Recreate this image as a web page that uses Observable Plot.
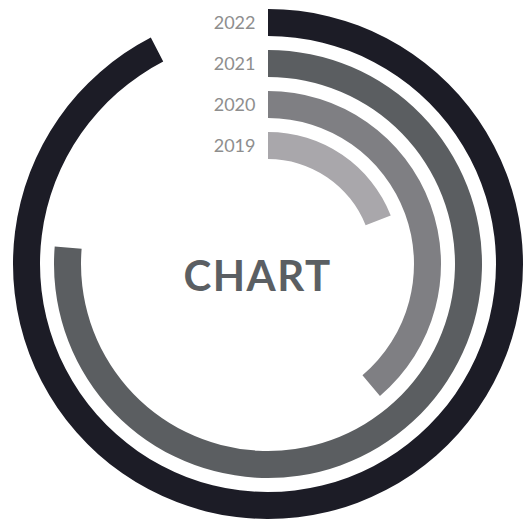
<!DOCTYPE html>
<html><head><meta charset="utf-8">
<script src="https://cdn.jsdelivr.net/npm/d3@7"></script>
<script src="https://cdn.jsdelivr.net/npm/@observablehq/plot@0.6"></script>
<style>html,body{margin:0;padding:0;background:#fff}</style>
</head><body><div id="chart"></div>
<script>
const years = ["2022", "2021", "2020", "2019"];
const values = [92.4, 76.3, 38.8, 19.0];
const colors = ["#1c1c26", "#5b5e61", "#7f7f83", "#a9a7ab"];
const fullTurn = 100;
const title = "CHART";

const data = years.map((year, i) => ({year, value: values[i]}));

function arcRender(index, scales, vals, dims) {
  const cx = (dims.marginLeft + dims.width - dims.marginRight) / 2;
  const cy = (dims.marginTop + dims.height - dims.marginBottom) / 2;
  const bw = scales.y.bandwidth();
  const g = d3.create("svg:g").attr("transform", `translate(${cx},${cy})`);
  const arc = d3.arc();
  for (const i of index) {
    const outer = cy - vals.y[i];
    g.append("path")
      .attr("fill", vals.fill[i])
      .attr("d", arc({innerRadius: outer - bw, outerRadius: outer, startAngle: vals.x1[i], endAngle: vals.x2[i]}));
  }
  return g.node();
}

const plot = Plot.plot({
  width: 523,
  height: 524,
  marginLeft: 13,
  marginRight: 0,
  marginTop: 4,
  marginBottom: 0,
  style: {fontFamily: "Lato", background: "white"},
  x: {domain: [0, fullTurn], range: [0, 2 * Math.PI], axis: null},
  y: {domain: years, range: [8, 159], paddingInner: 0.35, paddingOuter: 0, axis: null},
  color: {domain: years, range: colors},
  marks: [
    Plot.barX(data, {x: "value", y: "year", fill: "year", render: arcRender}),
    Plot.text(data, {y: "year", text: "year", frameAnchor: "middle", dx: -13, textAnchor: "end", fontSize: 18, fill: "#8e8e8e"}),
    Plot.text([title], {text: d => d, frameAnchor: "middle", dx: -11, dy: 13, fontSize: 42, fontWeight: 700, fill: "#5b5f63"})
  ]
});
d3.select(plot).selectAll("text").filter(function () { return this.textContent === title; })
  .style("letter-spacing", "1.5px");
document.getElementById("chart").appendChild(plot);
</script>
</body></html>
